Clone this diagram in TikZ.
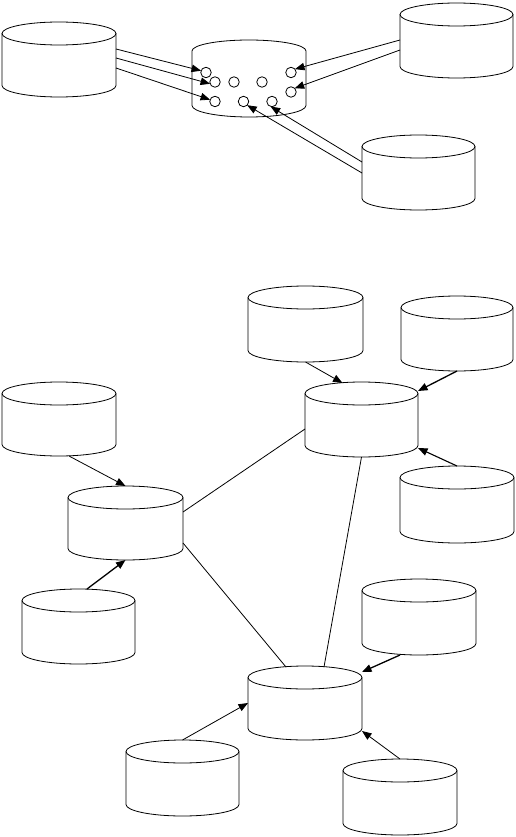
\documentclass[tikz,border=0pt]{standalone}
\usetikzlibrary{arrows.meta,calc}
\tikzset{
  box/.style={rectangle,draw=none,inner sep=0pt,outer sep=0pt},
  shp/.style={draw=black,line width=0.8pt},
  dot/.style={circle,draw=black,line width=0.8pt,minimum size=10.5pt,inner sep=0pt,outer sep=0pt},
  arr/.style={draw=black,line width=0.8pt,-{Triangle[length=9.5pt,width=7.5pt]}},
  arrm/.style={draw=black,line width=1.1pt,-{Triangle[length=9.5pt,width=7.5pt]}},
  arrk/.style={draw=black,line width=1.3pt,-{Triangle[length=9.5pt,width=7.5pt]}},
  lnk/.style={draw=black,line width=0.8pt}
}
\newcommand\cylry{11.5}
\newcommand\drawcyl[5]{%
  \pgfmathsetmacro\cylcx{(#2+#3)/2}%
  \pgfmathsetmacro\cylrx{(#3-#2)/2}%
  \pgfmathsetmacro\cylw{#3-#2}%
  \pgfmathsetmacro\cylh{#5-#4}%
  \pgfmathsetmacro\cylya{#4+\cylry}%
  \pgfmathsetmacro\cylyb{#5-\cylry}%
  \node[box,minimum width=\cylw pt,minimum height=\cylh pt,anchor=north west] (#1) at (#2,#4) {};
  \draw[shp] (#2,\cylya) -- (#2,\cylyb) arc[start angle=180,end angle=360,x radius=\cylrx pt,y radius=\cylry pt] -- (#3,\cylya);
  \draw[shp] (\cylcx,\cylya) ellipse[x radius=\cylrx pt,y radius=\cylry pt];
}
\begin{document}
\begin{tikzpicture}[x=1pt,y=-1pt]
\useasboundingbox[fill=white] (0,0) rectangle (515,837);
% top section
\drawcyl{A}{2}{116}{22}{97}
\drawcyl{C}{400}{513}{3}{78}
\drawcyl{D}{362}{475}{135}{210}
\node[box,minimum width=114pt,minimum height=77pt,anchor=north west] (B) at (192,40) {};
\draw[shp] (192,51) -- (192,105.5) arc[start angle=180,end angle=360,x radius=57pt,y radius=11.5pt] -- (306,51) arc[start angle=0,end angle=180,x radius=57pt,y radius=11pt];
\node[dot] (c1) at (206,72.5) {};
\node[dot] (c2) at (215,82) {};
\node[dot] (c3) at (234,82) {};
\node[dot] (c4) at (262,82) {};
\node[dot] (c5) at (291,72.5) {};
\node[dot] (c6) at (291,92) {};
\node[dot] (c7) at (215,101.5) {};
\node[dot] (c8) at (243.5,101.5) {};
\node[dot] (c9) at (272,101.5) {};
\draw[arr] ([yshift=-27pt]A.north east) -- (c1.160);
\draw[arr] ([yshift=-36pt]A.north east) -- (c2.200);
\draw[arr] ([yshift=-46pt]A.north east) -- (c7.160);
\draw[arr] ([yshift=-37pt]C.north west) -- (c5.40);
\draw[arr] ([yshift=-47pt]C.north west) -- (c6.45);
\draw[arr] ([yshift=-27pt]D.north west) -- (c9.-105);
\draw[arr] ([yshift=-38pt]D.north west) -- (c8.-45);
% bottom section
\drawcyl{E}{248}{363}{286}{362}
\drawcyl{F}{401}{513}{296}{371}
\drawcyl{G}{305}{418}{382}{457}
\drawcyl{H}{400}{514}{466}{543}
\drawcyl{I}{2}{116}{382}{456}
\drawcyl{J}{68}{183}{486}{560}
\drawcyl{K}{22}{135}{589}{664}
\drawcyl{L}{248}{362}{666}{740}
\drawcyl{M}{362}{476}{579}{655}
\drawcyl{N}{126}{239}{740}{816}
\drawcyl{O}{343}{457}{759}{835}
\draw[arr] (E.south) -- ([xshift=-19pt,yshift=-1pt]G.north);
\draw[arrk] (F.south) -- ([yshift=-9pt]G.north east);
\draw[arrm] (H.north) -- ([yshift=9pt]G.south east);
\draw[arr] ([xshift=10pt]I.south) -- (J.north);
\draw[arrk] ([xshift=8.5pt]K.north) -- (J.south);
\draw[lnk] ([yshift=-26pt]J.north east) -- ([yshift=-47pt]G.north west);
\draw[lnk] ([yshift=17pt]J.south east) -- ([xshift=-19pt,yshift=-1pt]L.north);
\draw[lnk] (G.south) -- ([xshift=19pt,yshift=-1pt]L.north);
\draw[arrk] ([xshift=-19pt]M.south) -- ([yshift=-6pt]L.north east);
\draw[arr] (N.north) -- ([yshift=-37pt]L.north west);
\draw[arr] (O.north) -- ([yshift=9pt]L.south east);
\end{tikzpicture}
\end{document}
